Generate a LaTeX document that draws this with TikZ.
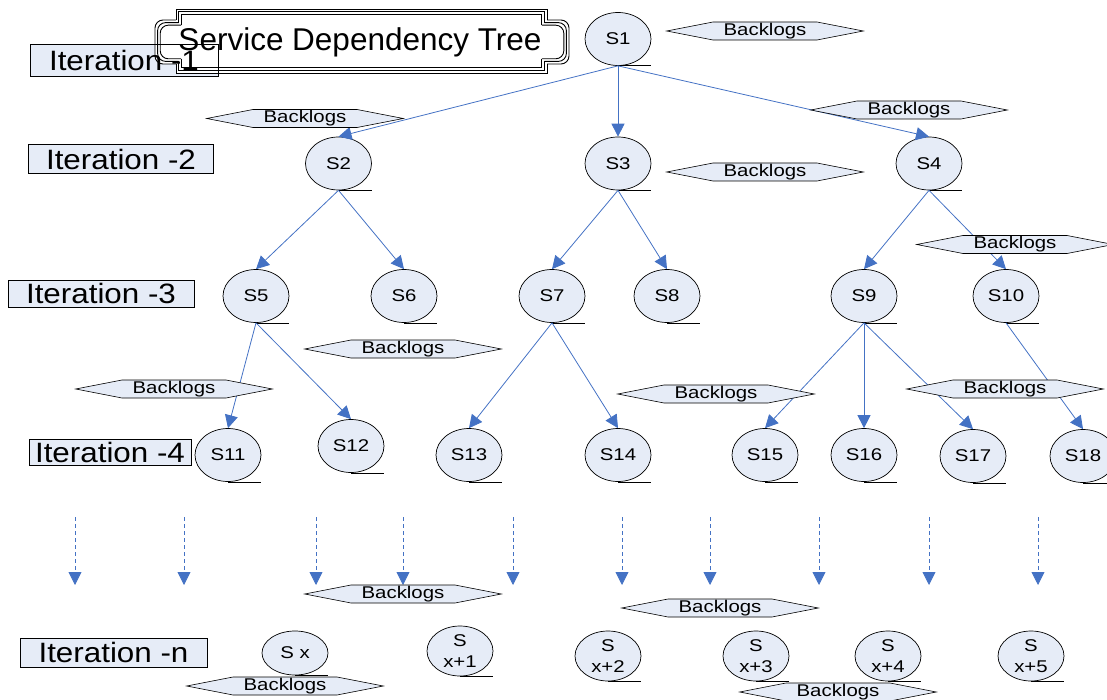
\documentclass[tikz,border=0pt]{standalone}
\usepackage{fontspec}
\setmainfont{Liberation Sans}
\newfontfamily\labfont{Liberation Sans}[FakeStretch=1.2]
\newfontfamily\iterfont{Liberation Sans}[FakeStretch=1.12]
\usetikzlibrary{shapes.geometric,shapes.symbols,arrows.meta}
\definecolor{nodefill}{RGB}{230,236,247}
\definecolor{linkblue}{RGB}{68,114,196}
\tikzset{
  svc/.style={ellipse, draw=black, line width=0.7pt, fill=nodefill,
    minimum width=66pt, minimum height=53pt, inner sep=0pt,
    font=\labfont\fontsize{17}{21}\selectfont, align=center},
  backlog/.style={signal, signal to=west and east, signal pointer angle=22,
    draw=black, line width=0.6pt, fill=nodefill, minimum height=18pt,
    text width=84pt, align=center, inner xsep=10pt, inner ysep=0pt,
    font=\labfont\fontsize{17}{18}\selectfont},
  iterbox/.style={rectangle, draw=black, line width=0.8pt, fill=nodefill,
    inner sep=0pt, font=\iterfont\fontsize{28}{30}\selectfont},
  link/.style={draw=linkblue, line width=0.8pt,
    -{Triangle[length=13pt,width=13pt]}},
  dashlink/.style={link, dash pattern=on 4pt off 3pt},
  tail/.style={draw=black, line width=0.7pt},
  frameline/.style={draw=black, line width=0.9pt},
}
\begin{document}
\begin{tikzpicture}[x=1pt,y=-1pt]
\useasboundingbox (0,0) rectangle (1107,700);

% iteration labels
\fill[nodefill] (30,44) rectangle (218,76);
\node[iterbox, minimum width=185pt, minimum height=29pt] (it2) at (121,159) {Iteration -2};
\node[iterbox, minimum width=186pt, minimum height=27pt] (it3) at (101,293.5) {Iteration -3};
\node[iterbox, minimum width=162pt, minimum height=26pt] (it4) at (110,452) {Iteration -4};
\node[iterbox, minimum width=187pt, minimum height=29pt] (itn) at (113.5,652.5) {Iteration -n};

% title frame: main panel with rounded side tabs, three parallel outlines
\fill[white] (176,9) rectangle (547,73);
\fill[white, rounded corners=8pt] (155,20) rectangle (569,64);
\foreach \d in {0,2.6,5.2} {
  \draw[frameline] ({176+\d},{20+\d}) -- ({176+\d},{9+\d}) -- ({547-\d},{9+\d}) -- ({547-\d},{20+\d});
  \draw[frameline, rounded corners=8pt] ({547-\d},{20+\d}) -- ({569-\d},{20+\d}) -- ({569-\d},{64-\d}) -- ({547-\d},{64-\d});
  \draw[frameline] ({547-\d},{64-\d}) -- ({547-\d},{73-\d}) -- ({176+\d},{73-\d}) -- ({176+\d},{64-\d});
  \draw[frameline, rounded corners=8pt] ({176+\d},{64-\d}) -- ({155+\d},{64-\d}) -- ({155+\d},{20+\d}) -- ({176+\d},{20+\d});
}
\node[iterbox, fill=none, minimum width=188pt, minimum height=32pt] (it1) at (124,60) {Iteration -1};
\node[font=\fontsize{31.5}{36}\selectfont, inner sep=0pt] (title) at (360,42) {Service Dependency Tree};

% services
\node[svc] (s1) at (618,39) {S1};
\node[svc] (s2) at (338.5,163.5) {S2};
\node[svc] (s3) at (618,163.5) {S3};
\node[svc] (s4) at (929,163.5) {S4};
\node[svc] (s5) at (256,296) {S5};
\node[svc] (s6) at (404,296) {S6};
\node[svc] (s7) at (552,296) {S7};
\node[svc] (s8) at (667,296) {S8};
\node[svc] (s9) at (864,296) {S9};
\node[svc] (s10) at (1006,296) {S10};
\node[svc] (s11) at (228,455) {S11};
\node[svc] (s12) at (351,446) {S12};
\node[svc] (s13) at (469,455) {S13};
\node[svc] (s14) at (618,455) {S14};
\node[svc] (s15) at (765,455) {S15};
\node[svc] (s16) at (864,455) {S16};
\node[svc] (s17) at (973,456) {S17};
\node[svc] (s18) at (1083,456) {S18};
\node[svc, minimum height=44pt] (sx) at (295,653) {S x};
\node[svc, minimum height=50pt] (sx1) at (460,651) {S\\x+1};
\node[svc, minimum height=50pt] (sx2) at (608,656) {S\\x+2};
\node[svc, minimum height=50pt] (sx3) at (756,656) {S\\x+3};
\node[svc, minimum height=50pt] (sx4) at (888,656) {S\\x+4};
\node[svc, minimum height=50pt] (sx5) at (1031,656) {S\\x+5};

% tape tails
\foreach \n in {s1,s2,s3,s4,s5,s6,s7,s8,s9,s10,s11,s12,s13,s14,s15,s16,s17,s18,sx,sx1,sx2,sx3,sx4,sx5}
  \draw[tail] (\n.south) -- (\n.south -| \n.east);

% dependencies
\foreach \a/\b in {s1/s2,s1/s3,s1/s4,s2/s5,s2/s6,s3/s7,s3/s8,s4/s9,s4/s10,s5/s11,s5/s12,s7/s13,s7/s14,s9/s15,s9/s16,s9/s17,s10/s18}
  \draw[link] (\a.south) -- (\b.north);

% further iterations
\foreach \x [count=\i] in {75,184,316,403,513,622,710,819,929,1038} {
  \coordinate (dtop\i) at (\x,517);
  \coordinate (dbot\i) at (\x,585);
  \draw[dashlink] (dtop\i) -- (dbot\i);
}

% backlog tags
\node[backlog] (bl1) at (765,31) {Backlogs};
\node[backlog] (bl2) at (305,118.5) {Backlogs};
\node[backlog] (bl3) at (909,110) {Backlogs};
\node[backlog] (bl4) at (765,172) {Backlogs};
\node[backlog] (bl5) at (1015,244.5) {Backlogs};
\node[backlog] (bl6) at (403,349) {Backlogs};
\node[backlog] (bl7) at (174,389) {Backlogs};
\node[backlog] (bl8) at (716,394) {Backlogs};
\node[backlog] (bl9) at (1005,389) {Backlogs};
\node[backlog] (bl10) at (403,594) {Backlogs};
\node[backlog] (bl11) at (720,608) {Backlogs};
\node[backlog] (bl12) at (285,686) {Backlogs};
\node[backlog] (bl13) at (838,692) {Backlogs};
\end{tikzpicture}
\end{document}
